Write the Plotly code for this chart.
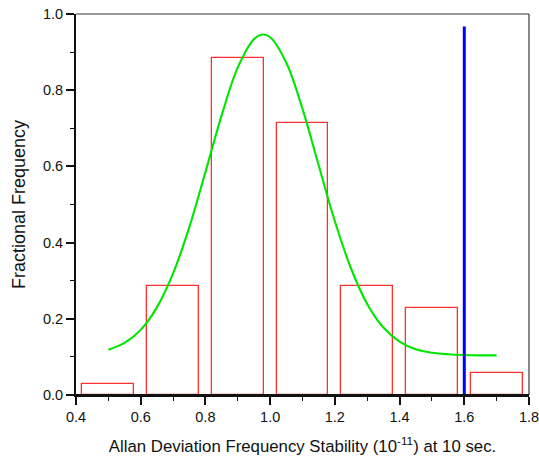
import plotly.graph_objects as go

# Histogram data
bin_centers = [0.5, 0.7, 0.9, 1.1, 1.3, 1.5, 1.7]
bin_width = 0.16
frac_freq = [0.0286, 0.2857, 0.8857, 0.7143, 0.2857, 0.2286, 0.0571]

# Fitted curve
fit_x = [0.50, 0.55, 0.60, 0.65, 0.70, 0.75, 0.80, 0.85, 0.90, 0.95, 0.975,
         1.00, 1.05, 1.10, 1.15, 1.20, 1.25, 1.30, 1.35, 1.40, 1.45, 1.50,
         1.55, 1.60, 1.65, 1.70]
fit_y = [0.119, 0.137, 0.171, 0.230, 0.319, 0.440, 0.585, 0.734, 0.860, 0.934, 0.946,
         0.939, 0.872, 0.751, 0.603, 0.456, 0.332, 0.239, 0.177, 0.140, 0.120, 0.111,
         0.107, 0.105, 0.104, 0.104]

# Threshold marker
threshold_x = [1.6, 1.6]
threshold_y = [0.0, 0.967]

fig = go.Figure()
fig.add_trace(go.Bar(
    x=bin_centers, y=frac_freq, width=bin_width,
    marker=dict(color="rgba(0,0,0,0)", line=dict(color="#ff3030", width=1.3)),
    showlegend=False,
))
fig.add_trace(go.Scatter(
    x=fit_x, y=fit_y, mode="lines",
    line=dict(color="#00e600", width=2.1, shape="spline"),
    showlegend=False,
))
fig.add_trace(go.Scatter(
    x=threshold_x, y=threshold_y, mode="lines",
    line=dict(color="#0000ff", width=3),
    showlegend=False,
))

font_family = "Liberation Sans, Arial, Helvetica, sans-serif"

fig.update_layout(
    width=539, height=459,
    margin=dict(l=76, r=10, t=14, b=64),
    paper_bgcolor="white", plot_bgcolor="white",
    font=dict(family=font_family, color="#111111"),
    bargap=0,
    xaxis=dict(
        range=[0.4, 1.8], dtick=0.2, tick0=0.4, tickformat=".1f",
        showgrid=False, zeroline=False, automargin=False,
        showline=True, linecolor="#111111", linewidth=2,
        ticks="outside", ticklen=8, tickwidth=1.5, tickcolor="#111111",
        tickfont=dict(size=14.5), ticklabeloverflow="allow",
        minor=dict(dtick=0.1, ticks="outside", ticklen=4, tickwidth=1.2, tickcolor="#111111"),
        title=dict(text="Allan Deviation Frequency Stability (10<sup>-11</sup>) at 10 sec.",
                   font=dict(size=16.8), standoff=16),
    ),
    yaxis=dict(
        range=[0, 1.0], dtick=0.2, tickformat=".1f",
        showgrid=False, zeroline=False, automargin=False,
        showline=True, linecolor="#111111", linewidth=2,
        ticks="outside", ticklen=8, tickwidth=1.5, tickcolor="#111111",
        tickfont=dict(size=14.5), ticklabeloverflow="allow",
        minor=dict(dtick=0.1, ticks="outside", ticklen=4, tickwidth=1.2, tickcolor="#111111"),
        title=dict(text="Fractional Frequency", font=dict(size=18), standoff=13),
    ),
    shapes=[
        dict(type="line", xref="paper", yref="paper", x0=0, x1=1, y0=1, y1=1,
             line=dict(color="#777777", width=1.5)),
        dict(type="line", xref="paper", yref="paper", x0=1, x1=1, y0=0, y1=1,
             line=dict(color="#111111", width=1)),
        dict(type="line", xref="paper", yref="y", x0=0, x1=1, y0=0, y1=0,
             line=dict(color="#111111", width=2), layer="above"),
    ],
)

fig.write_html(
    "out.html",
    config={"displayModeBar": False},
    post_script="document.body.style.margin='0';document.body.style.overflow='hidden';",
)
